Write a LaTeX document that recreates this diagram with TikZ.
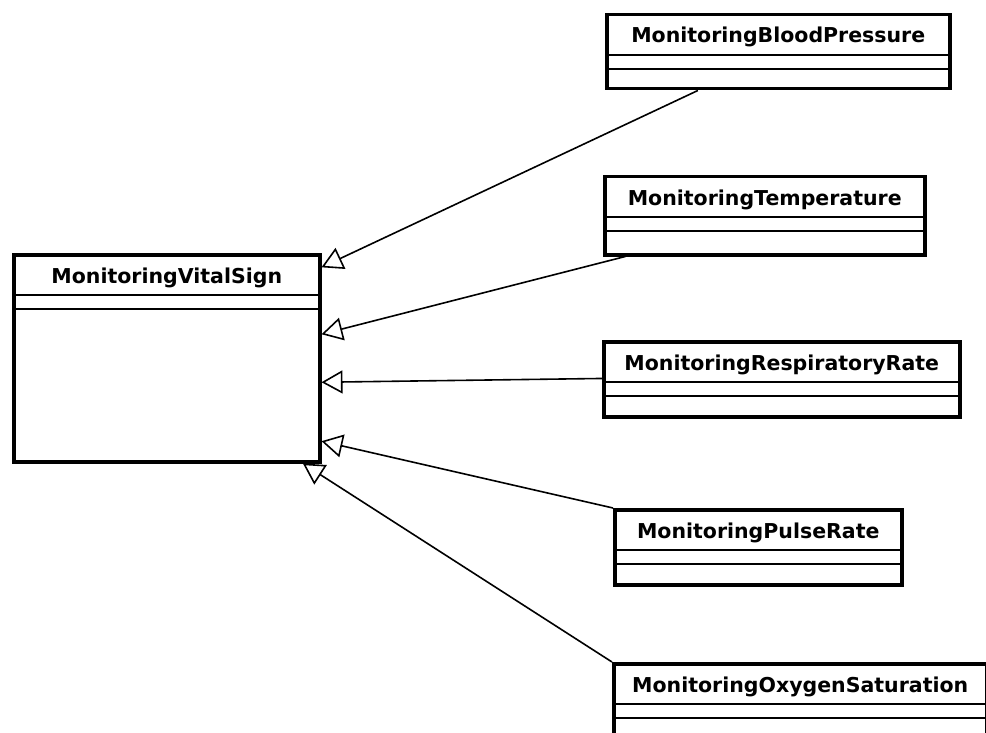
\documentclass[tikz,border=0pt]{standalone}
\usepackage{fontspec}
\setmainfont{DejaVu Sans}
\usetikzlibrary{arrows.meta,calc}

\tikzset{
  clsbox/.style={draw, line width=3.5pt, rectangle, anchor=north west, inner sep=0pt, fill=white},
  clstitle/.style={font=\bfseries\fontsize{20.5}{22}\selectfont, inner sep=0pt, anchor=base},
  clssep/.style={line width=1.7pt},
  generalize/.style={line width=1.6pt,
    -{Triangle[length=21pt,width=23pt,fill=white,line width=1.6pt]}},
}

% A class box: name, x, y, width, height, title (compartment lines at 42 and 56 below the top)
\newcommand{\umlclass}[6]{%
  \node[clsbox, minimum width=#4, minimum height=#5] (#1) at (#2,#3) {};
  \node[clstitle] (#1-title) at ($(#1.north)+(0,30)$) {#6};
  \draw[clssep] ($(#1.north west)+(0,42)$) -- ($(#1.north east)+(0,42)$);
  \draw[clssep] ($(#1.north west)+(0,56)$) -- ($(#1.north east)+(0,56)$);
}

\begin{document}
\begin{tikzpicture}[x=1pt,y=-1pt]
  \useasboundingbox (0,0) rectangle (986,733);
  \clip (0,0) rectangle (986,733);

  \umlclass{vital}{12}{253}{306}{207}{MonitoringVitalSign}
  \umlclass{bp}{605}{13}{343}{74}{MonitoringBloodPressure}
  \umlclass{temp}{603}{175}{320}{78}{MonitoringTemperature}
  \umlclass{resp}{602}{340}{356}{75}{MonitoringRespiratoryRate}
  \umlclass{pulse}{613}{508}{287}{75}{MonitoringPulseRate}
  \umlclass{oxy}{612}{662}{373}{75}{MonitoringOxygenSaturation}

  % generalization arrows towards the parent class
  \draw[generalize] ($(bp.south west)!0.268!(bp.south east)$)
    -- ($(vital.north east)!0.068!(vital.south east)$);
  \draw[generalize] ($(temp.south west)!0.069!(temp.south east)$)
    -- ($(vital.north east)!0.386!(vital.south east)$);
  \draw[generalize] ($(resp.north west)!0.49!(resp.south west)$)
    -- ($(vital.north east)!0.614!(vital.south east)$);
  \draw[generalize] (pulse.north west)
    -- ($(vital.north east)!0.894!(vital.south east)$);
  \draw[generalize] (oxy.north west)
    -- ($(vital.south west)!0.94!(vital.south east)$);
\end{tikzpicture}
\end{document}
